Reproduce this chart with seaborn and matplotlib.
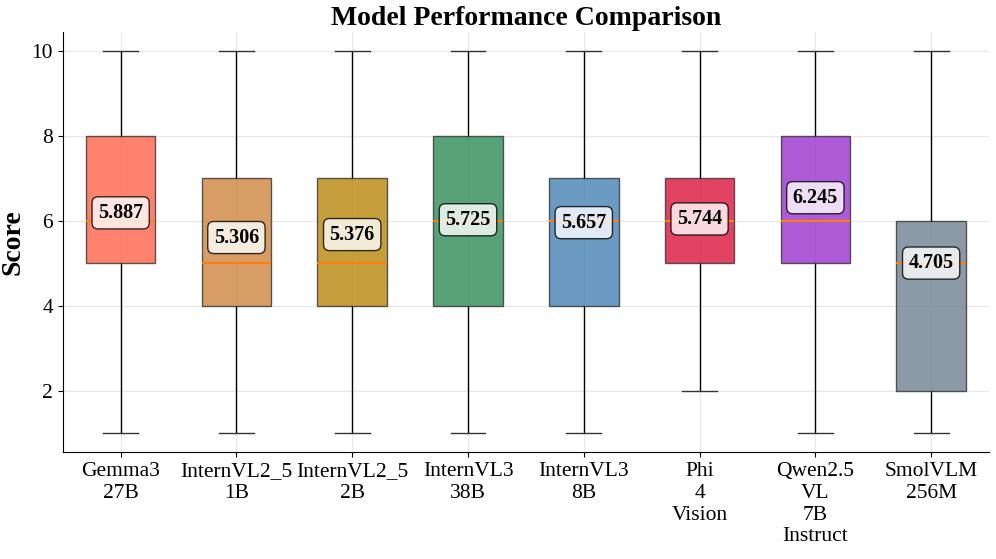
import numpy as np
import pandas as pd
import seaborn as sns
import matplotlib.pyplot as plt

# model names and how many answers got each score 1..10
models = ["Gemma3-27B", "InternVL2_5-1B", "InternVL2_5-2B", "InternVL3-38B",
          "InternVL3-8B", "Phi-4-Vision", "Qwen2.5-VL-7B-Instruct", "SmolVLM-256M"]
scores = [1, 2, 3, 4, 5, 6, 7, 8, 9, 10]
gemma3_27b = [66, 30, 50, 89, 151, 200, 150, 150, 90, 24]
internvl2_5_1b = [55, 50, 100, 149, 201, 150, 120, 90, 60, 25]
internvl2_5_2b = [47, 50, 100, 151, 199, 150, 120, 90, 60, 33]
internvl3_38b = [60, 60, 100, 130, 145, 75, 130, 130, 100, 70]
internvl3_8b = [33, 50, 96, 134, 150, 200, 120, 100, 60, 57]
phi_4_vision = [0, 54, 60, 124, 196, 250, 150, 90, 50, 26]
qwen2_5_vl_7b = [26, 30, 50, 91, 149, 200, 150, 150, 90, 64]
smolvlm_256m = [124, 150, 80, 89, 201, 120, 80, 60, 40, 56]
colors = ["tomato", "peru", "darkgoldenrod", "seagreen",
          "steelblue", "crimson", "darkorchid", "slategray"]

counts = [gemma3_27b, internvl2_5_1b, internvl2_5_2b, internvl3_38b,
          internvl3_8b, phi_4_vision, qwen2_5_vl_7b, smolvlm_256m]
rows = []
for m, c in zip(models, counts):
    for s in np.repeat(scores, c):
        rows.append({"model": m.replace("-", "\n"), "score": s})
df = pd.DataFrame(rows)
order = [m.replace("-", "\n") for m in models]

plt.rcParams["font.family"] = ["Liberation Serif", "DejaVu Serif"]

fig, ax = plt.subplots(figsize=(9.96, 5.59), dpi=100)
sns.boxplot(data=df, x="model", y="score", order=order, hue="model",
            palette=dict(zip(order, colors)), legend=False, width=0.6,
            saturation=1, showfliers=False, linewidth=1, linecolor="#333333",
            boxprops=dict(alpha=0.8),
            medianprops=dict(color="#ff7f0e", linewidth=1.5, alpha=1, zorder=3),
            whiskerprops=dict(color="black"), capprops=dict(color="#333333"),
            ax=ax)

means = df.groupby("model", sort=False)["score"].mean()
for i, m in enumerate(order):
    ax.text(i, means[m] + 0.3, f"{means[m]:.3f}", ha="center", va="center",
            fontsize=14.5, fontweight="bold", zorder=4,
            bbox=dict(boxstyle="round,pad=0.3", facecolor="white", alpha=0.8))

ax.set_title("Model Performance Comparison", fontsize=20, fontweight="bold", pad=5)
ax.set_xlabel("")
ax.set_ylabel("Score", fontsize=20, fontweight="bold")
ax.tick_params(axis="both", labelsize=15.5)
ax.grid(True, alpha=0.3)
ax.set_axisbelow(True)
sns.despine(ax=ax)
fig.subplots_adjust(left=0.063, right=0.993, top=0.943, bottom=0.191)
plt.savefig("out.png", dpi=100)
